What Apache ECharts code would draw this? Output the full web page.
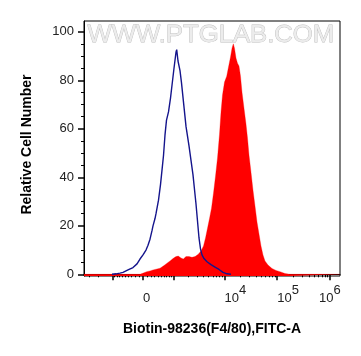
<!DOCTYPE html>
<html>
<head>
<meta charset="utf-8">
<script src="https://cdn.jsdelivr.net/npm/echarts@6/dist/echarts.min.js"></script>
<style>
  html, body { margin: 0; padding: 0; background: #fff; }
  #main { width: 361px; height: 356px; }
</style>
</head>
<body>
<div id="main"></div>
<script>
// histogram data, x in display channels (0..256 across the plot), y = relative cell number
var isotype = [
  [28,0],[32,0.2],[36,0.5],[39,0.8],[44,1.8],[49,2.8],[53,4.3],[56,6.3],[59,8],[62,10],[64,12],
  [66,14.5],[68,18],[69,20],[71,23],[72,25],[74.5,30.6],[76.5,37],[78,43],[79.5,49],[81,57.5],
  [82.5,63.6],[84.5,67],[86.5,72.7],[88,78],[90,85],[92,91.6],[92.7,92.7],[94,88],[96,84],
  [97.5,79],[99,73],[100.5,67],[102,61],[103.5,57],[105,53],[107,47],[109,41],[110.5,35],
  [112,29],[113.5,22],[115,15],[116.5,10.5],[118,8],[120,6.5],[123,5.2],[127,4],[131,3],
  [135,2],[139,0.8],[143,0.2],[147,0]
];
var stained = [
  [0,0],[56,0],[60,0.6],[62.7,1.1],[66,1.4],[69,1.8],[76,2.5],[80,3.6],[82.7,4.5],[86,5.5],
  [89.3,6.6],[92,7.3],[94.3,7.5],[97,6.7],[99.3,6.3],[102,7.3],[105,7.3],[108,7.0],[111,7.3],
  [114,8.2],[117,9.6],[119.5,11.7],[121.5,15],[123.5,19],[125.5,23],[127.5,27.3],[129.5,33.5],
  [131.5,40.5],[133.5,48],[135.5,57.8],[137,67],[138.5,74],[140.5,79.3],[142.7,81.7],
  [144.5,85.5],[146.5,89.6],[148,93.3],[149.3,95.1],[150.5,93.3],[152,89.2],[153.5,87.1],
  [155,85.9],[156.5,81.7],[158,75.1],[160,68.5],[162,62],[163.5,56.2],[165,49.2],[167,42.1],
  [169,34.7],[171,28.2],[173,21.6],[175,16.6],[177,11.7],[179,8],[181,5.5],[184,3.8],
  [188,2.4],[192,1.6],[196,1.1],[201,0.3],[206,0],[256,0]
];

// axis ticks (fluorescence values) and labels
var xMajor = [-1000, 0, 1000, 10000, 100000, 1000000];
var xMinor = [-3000, -2000, -900, -800, -700, -600, -500, -400, -300, -200, -100,
  100, 200, 300, 400, 500, 600, 700, 800, 900,
  2000, 3000, 4000, 5000, 6000, 7000, 8000, 9000,
  20000, 30000, 40000, 50000, 60000, 70000, 80000, 90000,
  200000, 300000, 400000, 500000, 600000, 700000, 800000, 900000];
var xLabelVals = [0, 10000, 100000, 1000000];
var xLabelText = ['0', '10^4', '10^5', '10^6'];
var yMajor = [0, 20, 40, 60, 80, 100];
var yMinor = [5, 10, 15, 25, 30, 35, 45, 50, 55, 65, 70, 75, 85, 90, 95];

// biexponential-ish display transform: value -> channel
function toChannel(v) {
  return 59 + 22.9 * Math.asinh(v / 570);
}
var labelPos = xLabelVals.map(toChannel);

var font = 'Arial, "Liberation Sans", sans-serif';
var chart = echarts.init(document.getElementById('main'));
chart.setOption({
  animation: false,
  grid: { left: 84, right: 21, top: 21, bottom: 80, show: true, borderColor: '#000', borderWidth: 1, backgroundColor: 'transparent' },
  graphic: [{
    type: 'text', left: 87, top: 23, z: 0, scaleX: 1.07,
    style: { text: 'WWW.PTGLAB.COM', font: '24px Arial, "Liberation Sans"', fill: '#ececec', stroke: '#bdbdbd', lineWidth: 0.8 }
  }],
  xAxis: [{
    type: 'value', min: 0, max: 256,
    name: 'Biotin-98236(F4/80),FITC-A', nameLocation: 'middle', nameGap: 46,
    nameTextStyle: { fontFamily: font, fontSize: 14, fontWeight: 'bold', color: '#000' },
    axisLine: { show: true, lineStyle: { color: '#000', width: 1 } },
    axisTick: { show: true, length: 6, customValues: xMajor.map(toChannel), lineStyle: { color: '#000', width: 1.5 } },
    axisLabel: {
      customValues: labelPos, margin: 8, align: 'left', alignMaxLabel: 'center',
      fontFamily: font, fontSize: 13, color: '#222',
      formatter: function (val) {
        var best = 0;
        for (var i = 1; i < labelPos.length; i++) {
          if (Math.abs(labelPos[i] - val) < Math.abs(labelPos[best] - val)) best = i;
        }
        var t = xLabelText[best];
        if (t.indexOf('^') < 0) return '{a|' + t + '}';
        var p = t.split('^');
        return '{a|' + p[0] + '}{s|' + p[1] + '}';
      },
      rich: {
        a: { fontFamily: font, fontSize: 13, color: '#222', verticalAlign: 'bottom', padding: [8, 0, 0, 0] },
        s: { fontFamily: font, fontSize: 13, color: '#222', verticalAlign: 'bottom', padding: [0, 0, 8, 0] }
      }
    },
    splitLine: { show: false }
  }, {
    type: 'value', min: 0, max: 256, position: 'bottom',
    axisLine: { show: false },
    axisTick: { show: true, length: 3, customValues: xMinor.map(toChannel), lineStyle: { color: '#000', width: 1 } },
    axisLabel: { show: false },
    splitLine: { show: false }
  }],
  yAxis: [{
    type: 'value', min: -0.7, max: 104.5,
    name: 'Relative Cell Number', nameLocation: 'middle', nameGap: 50,
    nameTextStyle: { fontFamily: font, fontSize: 14, fontWeight: 'bold', color: '#000', padding: [0, 0, 0, 8] },
    axisLine: { show: true, lineStyle: { color: '#000', width: 1 } },
    axisTick: { show: true, length: 6, customValues: yMajor, lineStyle: { color: '#000', width: 1.5 } },
    axisLabel: { customValues: yMajor, margin: 10, fontFamily: font, fontSize: 13, color: '#222' },
    splitLine: { show: false }
  }, {
    type: 'value', min: -0.7, max: 104.5, position: 'left',
    axisLine: { show: false },
    axisTick: { show: true, length: 3, customValues: yMinor, lineStyle: { color: '#000', width: 1 } },
    axisLabel: { show: false },
    splitLine: { show: false }
  }],
  series: [{
    type: 'line', data: stained, symbol: 'none', smooth: false,
    lineStyle: { color: '#ff0000', width: 1, opacity: 0.3 },
    areaStyle: { color: '#ff0000', opacity: 1, origin: 'start' },
    z: 2
  }, {
    type: 'line', data: isotype, symbol: 'none', smooth: false,
    lineStyle: { color: '#14148c', width: 1.4 },
    z: 3
  }]
});
</script>
</body>
</html>
